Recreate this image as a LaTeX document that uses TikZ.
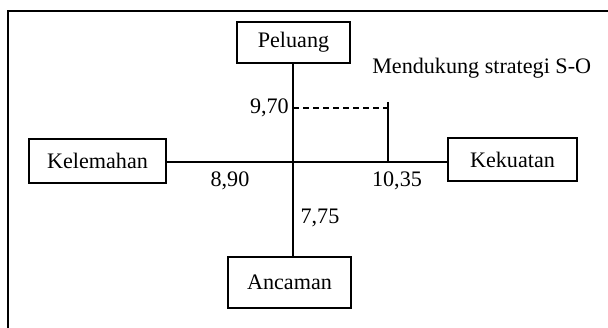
\documentclass[tikz,border=0pt]{standalone}
\usepackage{fontspec}
\setmainfont{Liberation Serif}
\begin{document}
\begin{tikzpicture}[x=0.75pt,y=-0.75pt,
  every node/.style={font=\fontsize{16.6}{18}\selectfont},
  box/.style={draw,line width=0.8pt,inner sep=0pt},
  lbl/.style={inner sep=0pt},
  ln/.style={line width=0.8pt}]
\useasboundingbox (0,0) rectangle (608,328);
\draw[line width=1pt] (608,11) -- (8,11) -- (8,328);
\node[box,minimum width=84.75pt,minimum height=30.75pt] (P) at (293.5,42.5) {Peluang};
\node[box,minimum width=102.75pt,minimum height=33pt] (W) at (97.5,161) {Kelemahan};
\node[box,minimum width=96.75pt,minimum height=32.25pt] (S) at (512.5,159.5) {Kekuatan};
\node[box,minimum width=92.25pt,minimum height=38.25pt] (T) at (289.5,282.5) {Ancaman};
\coordinate (O) at (293,162);
\coordinate (D1) at (293,108);
\coordinate (D2) at (388,108);
\coordinate (V1) at (388,102);
\coordinate (V2) at (388,162);
\draw[ln] (P.south -| O) -- (T.north -| O);
\draw[ln] (W.east |- O) -- (S.west |- O);
\draw[ln,dash pattern=on 4.5pt off 3pt] (D1) -- (D2);
\draw[ln] (V1) -- (V2);
\node[lbl,anchor=east] (n970) at (289,108) {9,70};
\node[lbl] (n890) at (230,181) {8,90};
\node[lbl] (n1035) at (397,181) {10,35};
\node[lbl] (n775) at (320,218) {7,75};
\node[lbl,anchor=base west] (so) at (372,74) {Mendukung strategi S-O};
\end{tikzpicture}
\end{document}
